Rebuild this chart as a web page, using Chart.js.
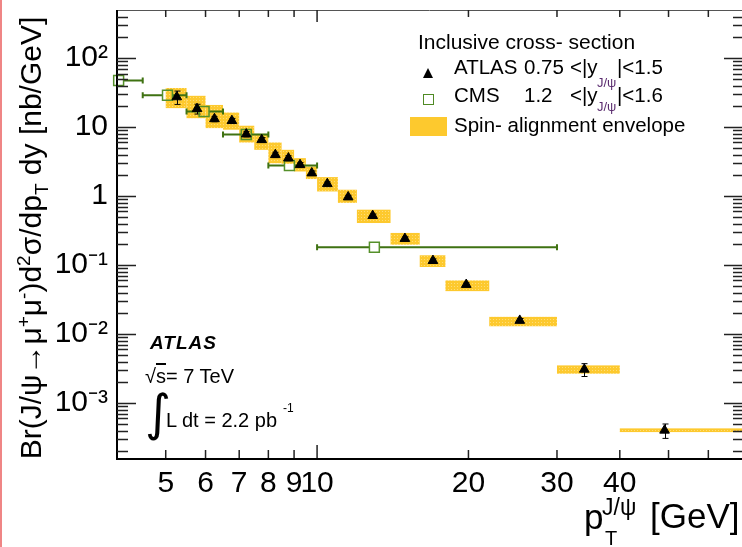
<!DOCTYPE html>
<html>
<head>
<meta charset="utf-8">
<script src="https://cdn.jsdelivr.net/npm/chart.js@4.4.1/dist/chart.umd.min.js"></script>
<style>
  body { margin: 0; background: #fff; }
  #wrap { position: relative; width: 742px; height: 547px; overflow: hidden; font-family: 'Liberation Sans', Arial, sans-serif; color: #000; }
  #wrap canvas { position: absolute; left: 0; top: 0; }
  .t { position: absolute; white-space: nowrap; line-height: 1; }
  .sub { color: #5b2c6f; }
  #edge { position: absolute; left: 0; top: 0; width: 2px; height: 547px; background: #ef8585; }
</style>
</head>
<body>
<div id="wrap">
  <canvas id="xsecChart" width="742" height="547"></canvas>
  <div id="edge"></div>

  <!-- axis titles -->
  <div class="t" style="left:32px; top:238px; font-size:30px; transform:translate(-50%,-50%) rotate(-90deg);">Br(J/&psi;&rarr;&mu;<sup style="font-size:19px">+</sup>&mu;<sup style="font-size:19px">-</sup>)d<sup style="font-size:19px">2</sup>&sigma;/dp<sub style="font-size:19px">T</sub> dy [nb/GeV]</div>
  <div class="t" style="left:584px; top:499px; font-size:35px;">p</div>
  <div class="t" style="left:602px; top:496px; font-size:23px;">J/&psi;</div>
  <div class="t" style="left:605px; top:528px; font-size:20px;">T</div>
  <div class="t" style="left:650px; top:498px; font-size:35px;">[GeV]</div>

  <!-- legend -->
  <div class="t" style="left:418px; top:31px; font-size:21px;">Inclusive cross- section</div>
  <div style="position:absolute; left:423px; top:68px; width:0; height:0; border-left:5px solid transparent; border-right:5px solid transparent; border-bottom:10px solid #000;"></div>
  <div class="t" style="left:454px; top:57px; font-size:20.5px;">ATLAS</div>
  <div class="t" style="left:524px; top:57px; font-size:20.5px;">0.75</div>
  <div class="t" style="left:570px; top:57px; font-size:20.5px;">&lt;|y</div>
  <div class="t sub" style="left:597px; top:76px; font-size:13px;">J/&psi;</div>
  <div class="t" style="left:617px; top:57px; font-size:20.5px;">|&lt;1.5</div>
  <div style="position:absolute; left:423px; top:94px; width:9px; height:9px; border:1.5px solid #4f8a24;"></div>
  <div class="t" style="left:454px; top:85px; font-size:20.5px;">CMS</div>
  <div class="t" style="left:524px; top:85px; font-size:20.5px;">1.2</div>
  <div class="t" style="left:570px; top:85px; font-size:20.5px;">&lt;|y</div>
  <div class="t sub" style="left:597px; top:100px; font-size:13px;">J/&psi;</div>
  <div class="t" style="left:617px; top:85px; font-size:20.5px;">|&lt;1.6</div>
  <div style="position:absolute; left:410px; top:117px; width:37px; height:19px; background:#fdc92e;"></div>
  <div class="t" style="left:454px; top:115px; font-size:20.5px;">Spin- alignment envelope</div>

  <!-- experiment label -->
  <div class="t" style="left:150px; top:333px; font-size:19px; font-weight:bold; font-style:italic; letter-spacing:1px;">ATLAS</div>
  <div class="t" style="left:145px; top:366px; font-size:20px;">&radic;<span style="text-decoration:overline">s</span>= 7 TeV</div>
  <div class="t" style="left:145px; top:388px; font-size:50px; font-family:'DejaVu Sans';">&int;</div>
  <div class="t" style="left:166px; top:410px; font-size:20px;">L dt = 2.2 pb</div>
  <div class="t" style="left:283px; top:402px; font-size:12px;">-1</div>
</div>

<script>
// ATLAS 0.75 < |y| < 1.5 bins (GeV)
const binLo = [5, 5.5, 6, 6.5, 7, 7.5, 8, 8.5, 9, 9.5, 10, 11, 12, 14, 16, 18, 22, 30, 40];
const binHi = [5.5, 6, 6.5, 7, 7.5, 8, 8.5, 9, 9.5, 10, 11, 12, 14, 16, 18, 22, 30, 40, 70];
const atlasPt = [5.26, 5.77, 6.25, 6.77, 7.23, 7.76, 8.26, 8.77, 9.25, 9.76, 10.48, 11.53, 12.9, 14.95, 17.0, 19.8, 25.3, 34.0, 49.1];
const atlasXs = [27.4, 18.5, 13.2, 12.4, 7.94, 6.56, 3.98, 3.56, 2.85, 2.16, 1.51, 0.97, 0.521, 0.242, 0.116, 0.0522, 0.01574, 0.00308, 0.000403];
const atlasErr = [6.0, 3.0, 1.2, 1.0, 0.7, 0.5, 0.35, 0.3, 0.22, 0.16, 0.1, 0.06, 0.03, 0.015, 0.007, 0.003, 0.0011, 0.00065, 0.000095];
// spin-alignment envelope
const envHi = [37, 28.5, 21, 16.3, 10.5, 8.0, 6.0, 4.7, 3.56, 2.7, 1.89, 1.24, 0.637, 0.293, 0.139, 0.060, 0.0178, 0.00352, 0.00043];
const envLo = [18.9, 13.5, 9.7, 9.2, 6.0, 4.7, 3.0, 2.95, 2.28, 1.77, 1.17, 0.80, 0.408, 0.198, 0.094, 0.042, 0.0130, 0.00267, 0.00038];

// CMS 1.2 < |y| < 1.6
const cmsPt = [4.03, 5.04, 5.96, 7.23, 8.81, 13.0];
const cmsXs = [47.5, 29.1, 16.9, 7.83, 2.78, 0.182];
const cmsLo = [3.5, 4.5, 5.5, 6.5, 8, 10];
const cmsHi = [4.5, 5.5, 6.5, 8, 10, 30];

// axes
const xTicks = [5, 6, 7, 8, 9, 10, 20, 30, 40];
const xTickLabels = ['5', '6', '7', '8', '9', '10', '20', '30', '40'];
const yTicks = [100, 10, 1, 0.1, 0.01, 0.001];
const yTickLabels = ['10²', '10', '1', '10⁻¹', '10⁻²', '10⁻³'];

const YELLOW = '#fdc92e';
const CMS_GREEN = '#3f7212';

function yellowPattern(ctx) {
    const c = document.createElement('canvas');
    c.width = 3; c.height = 3;
    const g = c.getContext('2d');
    g.fillStyle = YELLOW;
    g.fillRect(0, 0, 3, 3);
    g.fillStyle = '#fedd78';
    g.fillRect(1, 1, 1, 1);
    return ctx.createPattern(c, 'repeat');
}

// envelopes and error bars, drawn under the markers
const bandsPlugin = {
    id: 'bands',
    beforeDatasetsDraw(chart) {
        const { ctx, chartArea: a, scales: { x, y } } = chart;
        ctx.save();
        ctx.beginPath();
        ctx.rect(a.left, a.top, a.right - a.left, a.bottom - a.top);
        ctx.clip();

        ctx.fillStyle = yellowPattern(ctx);
        binLo.forEach((lo, i) => {
            const x0 = x.getPixelForValue(lo), x1 = x.getPixelForValue(binHi[i]);
            const y0 = y.getPixelForValue(envHi[i]), y1 = y.getPixelForValue(envLo[i]);
            ctx.fillRect(x0, y0, x1 - x0, Math.max(y1 - y0, 3));
        });

        // CMS horizontal bin widths
        ctx.strokeStyle = CMS_GREEN;
        ctx.lineWidth = 2;
        cmsPt.forEach((pt, i) => {
            const px = x.getPixelForValue(pt), py = y.getPixelForValue(cmsXs[i]);
            const x0 = x.getPixelForValue(cmsLo[i]), x1 = x.getPixelForValue(cmsHi[i]);
            ctx.beginPath();
            ctx.moveTo(x0, py); ctx.lineTo(px - 5, py);
            ctx.moveTo(px + 5, py); ctx.lineTo(x1, py);
            ctx.moveTo(x0, py - 3); ctx.lineTo(x0, py + 3);
            ctx.moveTo(x1, py - 3); ctx.lineTo(x1, py + 3);
            ctx.stroke();
        });

        // ATLAS vertical errors
        ctx.strokeStyle = '#000';
        ctx.lineWidth = 1;
        atlasPt.forEach((pt, i) => {
            const px = Math.round(x.getPixelForValue(pt)) + 0.5;
            const yt = y.getPixelForValue(atlasXs[i] + atlasErr[i]);
            const yb = y.getPixelForValue(atlasXs[i] - atlasErr[i]);
            ctx.beginPath();
            ctx.moveTo(px, yt); ctx.lineTo(px, yb);
            ctx.moveTo(px - 3, yt); ctx.lineTo(px + 3, yt);
            ctx.moveTo(px - 3, yb); ctx.lineTo(px + 3, yb);
            ctx.stroke();
        });
        ctx.restore();
    }
};

// ROOT-style frame with inward ticks
const framePlugin = {
    id: 'frame',
    afterDraw(chart) {
        const { ctx, chartArea: a, scales: { x, y } } = chart;
        ctx.save();
        ctx.strokeStyle = '#555';
        ctx.lineWidth = 1;
        ctx.beginPath();
        ctx.moveTo(a.left, a.top + 0.5); ctx.lineTo(a.right, a.top + 0.5);
        ctx.stroke();

        ctx.strokeStyle = '#000';
        ctx.lineWidth = 2;
        ctx.beginPath();
        ctx.moveTo(a.left, a.top); ctx.lineTo(a.left, a.bottom + 1);
        ctx.lineTo(a.right, a.bottom + 1);
        ctx.stroke();

        ctx.strokeStyle = '#222';
        ctx.lineWidth = 1.5;
        ctx.beginPath();
        // x ticks
        for (let d = 1; d <= 10; d *= 10) {
            for (let m = 1; m < 10; m++) {
                const v = m * d;
                if (v <= x.min || v >= x.max) continue;
                const px = x.getPixelForValue(v);
                const len = m === 1 ? 13 : 8;
                ctx.moveTo(px, a.bottom); ctx.lineTo(px, a.bottom - len);
                ctx.moveTo(px, a.top); ctx.lineTo(px, a.top + len - 1);
            }
        }
        // y ticks
        for (let e = -4; e <= 2; e++) {
            for (let m = 1; m < 10; m++) {
                const v = m * Math.pow(10, e);
                if (v <= y.min || v >= y.max) continue;
                const py = Math.round(y.getPixelForValue(v)) + 0.5;
                const major = m === 1;
                ctx.moveTo(a.left, py); ctx.lineTo(a.left + (major ? 19 : 11), py);
                ctx.moveTo(a.right, py); ctx.lineTo(a.right - (major ? 18 : 9), py);
            }
        }
        ctx.stroke();
        ctx.restore();
    }
};

const tickFont = { family: "'Liberation Sans', Arial, sans-serif", size: 30 };

new Chart(document.getElementById('xsecChart'), {
    type: 'scatter',
    data: {
        datasets: [{
            label: 'ATLAS 0.75<|y|<1.5',
            data: atlasPt.map((pt, i) => ({ x: pt, y: atlasXs[i] })),
            pointStyle: 'triangle',
            radius: 5.6,
            backgroundColor: '#000',
            borderColor: '#000',
            borderWidth: 1,
            clip: false
        }, {
            label: 'CMS 1.2<|y|<1.6',
            data: cmsPt.map((pt, i) => ({ x: pt, y: cmsXs[i] })),
            pointStyle: 'rect',
            radius: 7,
            backgroundColor: 'rgba(0,0,0,0)',
            borderColor: '#55902a',
            borderWidth: 1.5,
            clip: false
        }]
    },
    options: {
        responsive: false,
        animation: false,
        events: [],
        layout: { autoPadding: false, padding: { top: 10, right: 0, left: 0, bottom: 0 } },
        plugins: { legend: { display: false }, tooltip: { enabled: false } },
        scales: {
            x: {
                type: 'logarithmic',
                min: 4,
                max: 70,
                bounds: 'data',
                afterFit: (s) => { s.height = 89; s.paddingLeft = 0; s.paddingRight = 0; },
                afterBuildTicks: (s) => { s.ticks = xTicks.map(v => ({ value: v })); },
                ticks: {
                    autoSkip: false,
                    maxRotation: 0,
                    padding: 8,
                    color: '#000',
                    font: tickFont,
                    callback: (v) => xTickLabels[xTicks.indexOf(v)]
                },
                grid: { display: false, drawTicks: false },
                border: { display: false }
            },
            y: {
                type: 'logarithmic',
                min: 1.6e-4,
                max: 500,
                bounds: 'data',
                afterFit: (s) => { s.width = 117; s.paddingTop = 0; s.paddingBottom = 0; },
                afterBuildTicks: (s) => { s.ticks = yTicks.map(v => ({ value: v })); },
                ticks: {
                    autoSkip: false,
                    padding: 9,
                    color: '#000',
                    font: tickFont,
                    callback: (v) => yTickLabels[yTicks.indexOf(v)]
                },
                grid: { display: false, drawTicks: false },
                border: { display: false }
            }
        }
    },
    plugins: [bandsPlugin, framePlugin]
});
</script>
</body>
</html>
